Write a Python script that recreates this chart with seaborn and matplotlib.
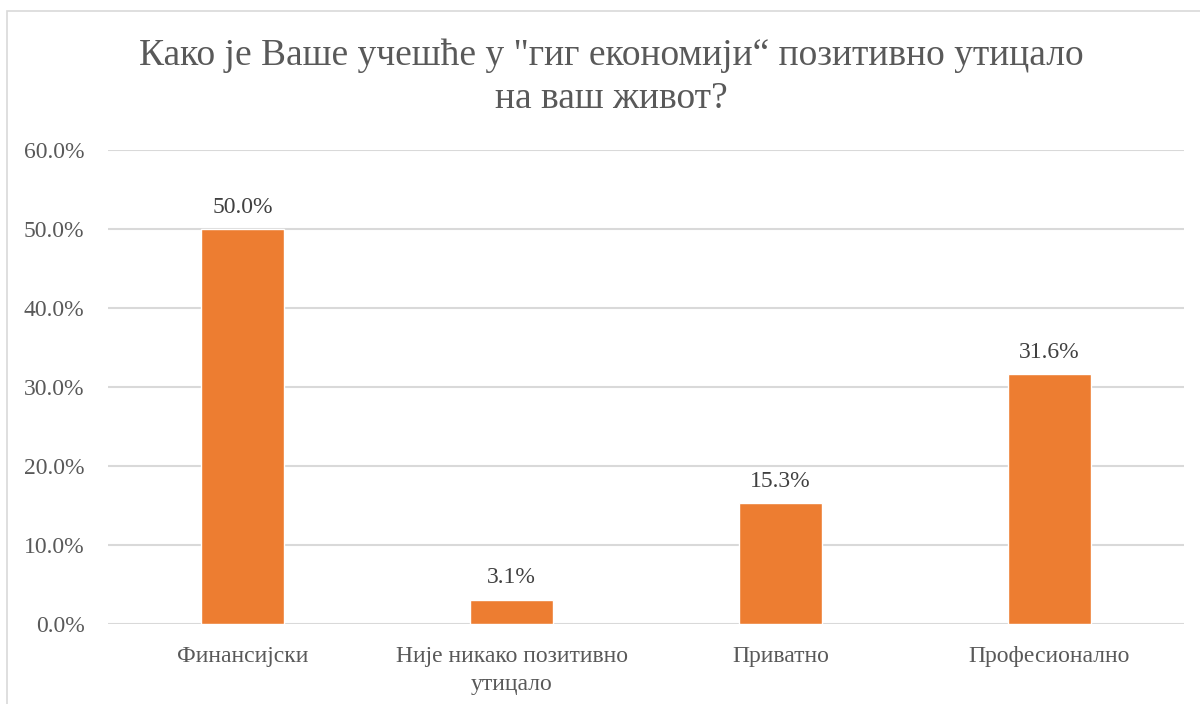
import matplotlib
matplotlib.use("Agg")
import matplotlib.pyplot as plt
import seaborn as sns
import pandas as pd
from matplotlib.patches import Rectangle

categories = ["Финансијски", "Није никако позитивно\nутицало", "Приватно", "Професионално"]
values = [50.0, 3.1, 15.3, 31.6]
yticks = [0, 10, 20, 30, 40, 50, 60]
title = "Како је Ваше учешће у \"гиг економији“ позитивно утицало\nна ваш живот?"

sns.set_theme(style="white")
plt.rcParams["font.family"] = ["Liberation Serif", "DejaVu Serif"]

df = pd.DataFrame({"cat": categories, "val": values})

fig = plt.figure(figsize=(12, 7.04), dpi=100)
ax = fig.add_axes([108 / 1200, 1 - 624 / 704, 1076 / 1200, 474 / 704])

sns.barplot(data=df, x="cat", y="val", color="#ED7D31", saturation=1,
            width=0.31, ax=ax, zorder=3)

ax.set_ylim(0, 60)
ax.set_yticks(yticks)
ax.set_yticklabels([f"{t:.1f}%" for t in yticks], fontsize=17, color="#595959")
ax.set_xticks(range(len(categories)))
ax.set_xticklabels(categories, fontsize=17, color="#595959", linespacing=1.4)
ax.set_xlim(-0.5, len(categories) - 0.5)
ax.set_xlabel("")
ax.set_ylabel("")
ax.tick_params(axis="both", length=0)
ax.tick_params(axis="y", pad=17)
ax.tick_params(axis="x", pad=16)

ax.grid(axis="y", color="#D9D9D9", linewidth=1.5, zorder=0)
ax.set_axisbelow(True)
for s in ax.spines.values():
    s.set_visible(False)

for i, v in enumerate(values):
    ax.annotate(f"{v:.1f}%", (i, v), xytext=(0, 8), textcoords="offset points",
                ha="center", va="bottom", fontsize=17, color="#404040")

fig.text(611 / 1200, 1 - 77 / 704, title, ha="center", va="center",
         fontsize=27, color="#595959", linespacing=1.32)

# chart frame
fig.patches.append(Rectangle((7 / 1200, -0.01), 1.2, 1 - 11 / 704 + 0.01,
                             transform=fig.transFigure, fill=False,
                             edgecolor="#D9D9D9", linewidth=1.2))

fig.savefig("out.png", dpi=100, facecolor="white")
